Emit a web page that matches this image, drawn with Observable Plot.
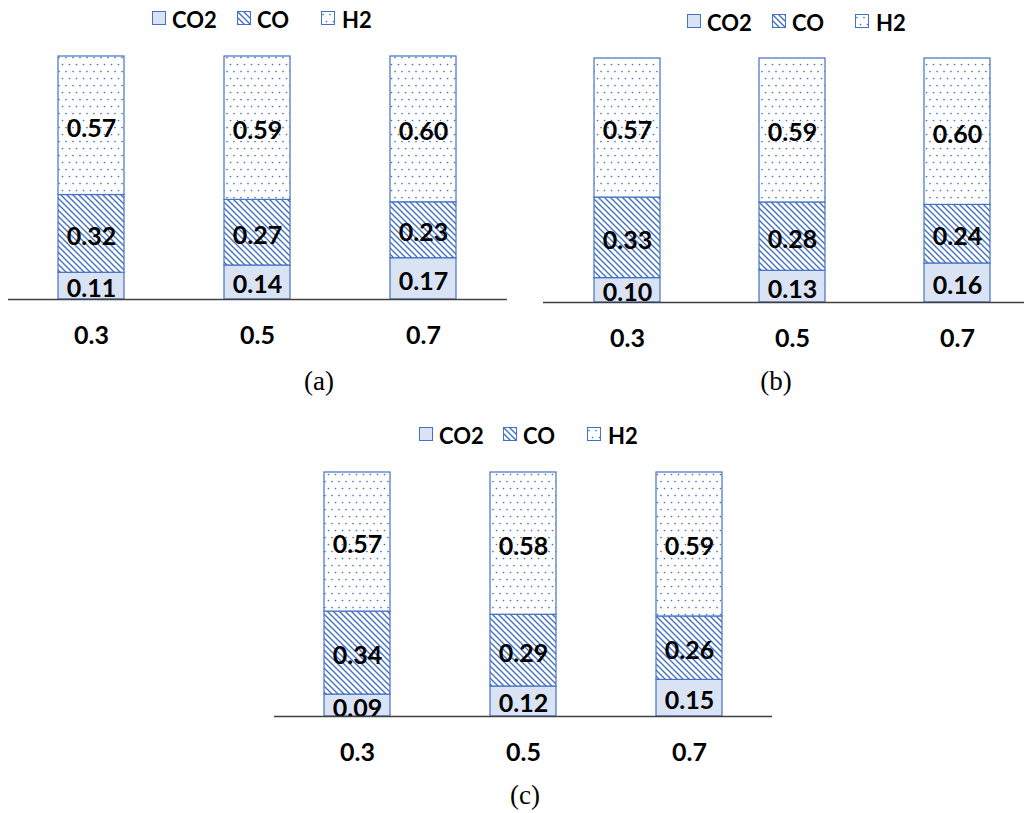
<!DOCTYPE html>
<html>
<head>
<meta charset="utf-8">
<script src="https://cdn.jsdelivr.net/npm/d3@7"></script>
<script src="https://cdn.jsdelivr.net/npm/@observablehq/plot@0.6"></script>
<style>
  html, body { margin: 0; padding: 0; background: #fff; overflow: hidden; }
  #root { position: relative; width: 1024px; height: 813px; overflow: hidden; }
  .panel { position: absolute; }
  .legend { position: absolute; font-family: Lato, sans-serif; font-weight: bold; font-size: 22px; color: #000; }
  .legend span.item { position: absolute; white-space: nowrap; top: 0; }
  .legend svg { position: absolute; top: 0; }
  .caption { position: absolute; font-family: "Liberation Serif", serif; font-size: 27px; color: #000; transform: translateX(-50%); }
</style>
</head>
<body>
<svg width="0" height="0" style="position:absolute">
  <defs>
    <pattern id="hatch" patternUnits="userSpaceOnUse" width="6" height="6">
      <rect width="6" height="6" fill="#ffffff"></rect>
      <path d="M0,0 L6,6 M-1,5 L1,7 M5,-1 L7,1" stroke="#4472c4" stroke-width="1.4"></path>
    </pattern>
    <pattern id="dots" patternUnits="userSpaceOnUse" width="7" height="14">
      <rect width="7" height="14" fill="#ffffff"></rect>
      <circle cx="2" cy="3.5" r="0.85" fill="#4472c4"></circle>
      <circle cx="5.5" cy="10.5" r="0.85" fill="#4472c4"></circle>
    </pattern>
  </defs>
</svg>
<div id="root"></div>
<script>
// ---- data ----
const categories = ["0.3", "0.5", "0.7"];
const seriesNames = ["CO2", "CO", "H2"];
const panelA_CO2 = [0.11, 0.14, 0.17];
const panelA_CO  = [0.32, 0.27, 0.23];
const panelA_H2  = [0.57, 0.59, 0.60];
const panelB_CO2 = [0.10, 0.13, 0.16];
const panelB_CO  = [0.33, 0.28, 0.24];
const panelB_H2  = [0.57, 0.59, 0.60];
const panelC_CO2 = [0.09, 0.123, 0.15];
const panelC_CO  = [0.34, 0.294, 0.26];
const panelC_H2  = [0.57, 0.583, 0.59];
const captions = ["(a)", "(b)", "(c)"];

const fills = ["#dae3f3", "url(#hatch)", "url(#dots)"];
const edge = "#4472c4";

function rowsFor(co2, co, h2) {
  const rows = [];
  categories.forEach((c, i) => {
    rows.push({cat: c, series: "CO2", value: co2[i]});
    rows.push({cat: c, series: "CO", value: co[i]});
    rows.push({cat: c, series: "H2", value: h2[i]});
  });
  return rows;
}

const root = document.getElementById("root");

const panels = [
  {rows: rowsFor(panelA_CO2, panelA_CO, panelA_H2), left: 8, top: 40, width: 499, mt: 16, ph: 243,
   legend: {top: 6, box: [152, 237, 321], text: [172, 257, 342]}, cap: {x: 319, y: 366}},
  {rows: rowsFor(panelB_CO2, panelB_CO, panelB_H2), left: 543, top: 40, width: 497, mt: 18, ph: 244,
   legend: {top: 9, box: [687, 772, 855], text: [707, 792, 876]}, cap: {x: 776, y: 366}},
  {rows: rowsFor(panelC_CO2, panelC_CO, panelC_H2), left: 274, top: 450, width: 498, mt: 22, ph: 244,
   legend: {top: 422, box: [419, 503, 587], text: [439, 523, 608]}, cap: {x: 525, y: 780}}
];

panels.forEach((p, k) => {
  const mb = 60;
  const chart = Plot.plot({
    width: p.width,
    height: p.mt + p.ph + mb,
    marginLeft: 0, marginRight: 0, marginTop: p.mt, marginBottom: mb,
    style: {fontFamily: "Lato, sans-serif", fontWeight: "bold", fontSize: "24px", color: "#000", background: "transparent", overflow: "visible"},
    x: {domain: categories, paddingInner: 0.6, paddingOuter: 0.3, label: null},
    y: {domain: [0, 1], axis: null},
    color: {type: "ordinal", domain: seriesNames, range: fills},
    marks: [
      Plot.barY(p.rows, Plot.stackY({x: "cat", y: "value", z: "series", fill: "series", stroke: edge, strokeWidth: 1.2, inset: 0})),
      Plot.text(p.rows, Plot.stackY({x: "cat", y: "value", z: "series", text: d => d.value.toFixed(2), fill: "#000", fontSize: 25, fontWeight: "bold", dy: 3})),
      Plot.ruleY([0], {stroke: "#404040", strokeWidth: 1.6}),
      Plot.axisX({tickSize: 0, tickPadding: 27, fontSize: 25, fontWeight: "bold", fill: "#000"})
    ]
  });
  chart.classList.add("panel");
  chart.style.left = p.left + "px";
  chart.style.top = p.top + "px";
  chart.style.position = "absolute";
  root.appendChild(chart);

  const lg = document.createElement("div");
  lg.className = "legend";
  lg.style.left = "0px";
  lg.style.top = p.legend.top + "px";
  seriesNames.forEach((s, i) => {
    const ns = "http://www.w3.org/2000/svg";
    const sw = document.createElementNS(ns, "svg");
    sw.setAttribute("width", 14);
    sw.setAttribute("height", 14);
    sw.style.left = p.legend.box[i] + "px";
    sw.style.top = "5px";
    const r = document.createElementNS(ns, "rect");
    r.setAttribute("x", 0.5); r.setAttribute("y", 0.5);
    r.setAttribute("width", 13); r.setAttribute("height", 13);
    r.setAttribute("fill", fills[i]);
    r.setAttribute("stroke", edge);
    r.setAttribute("stroke-width", 1);
    sw.appendChild(r);
    lg.appendChild(sw);
    const t = document.createElement("span");
    t.className = "item";
    t.textContent = s;
    t.style.left = p.legend.text[i] + "px";
    lg.appendChild(t);
  });
  root.appendChild(lg);

  const cap = document.createElement("div");
  cap.className = "caption";
  cap.textContent = captions[k];
  cap.style.left = p.cap.x + "px";
  cap.style.top = p.cap.y + "px";
  root.appendChild(cap);
});
</script>
</body>
</html>
